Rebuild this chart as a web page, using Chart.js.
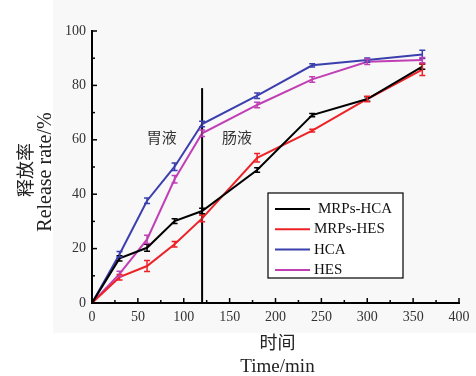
<!DOCTYPE html>
<html>
<head>
<meta charset="utf-8">
<script src="https://cdn.jsdelivr.net/npm/chart.js@4/dist/chart.umd.min.js"></script>
<style>
  html, body { margin: 0; padding: 0; background: #fff; }
  #wrap { width: 476px; height: 376px; position: relative; }
</style>
</head>
<body>
<div id="wrap"><canvas id="releaseChart" width="476" height="376"></canvas></div>
<script>
// sampling times (min)
const times = [0, 30, 60, 90, 120, 180, 240, 300, 360];

const mrpsHca = [0, 16.4, 20.3, 30.1, 33.8, 48.9, 69.1, 75.0, 86.9];
const mrpsHcaErr = [0, 1.0, 1.3, 0.9, 1.0, 0.8, 0.6, 0.8, 1.0];

const mrpsHes = [0, 9.5, 13.6, 21.6, 31.1, 53.4, 63.4, 75.0, 85.8];
const mrpsHesErr = [0, 1.0, 2.0, 1.0, 1.2, 1.6, 0.5, 1.0, 2.2];

const hca = [0, 17.9, 37.6, 50.1, 65.8, 76.2, 87.4, 89.3, 91.4];
const hcaErr = [0, 1.0, 1.0, 1.4, 1.0, 1.0, 0.6, 0.8, 1.5];

const hes = [0, 10.7, 23.4, 45.5, 62.4, 72.8, 82.2, 88.7, 89.3];
const hesErr = [0, 1.0, 1.5, 1.4, 1.2, 1.0, 1.0, 1.0, 1.0];

const xTicks = [0, 50, 100, 150, 200, 250, 300, 350, 400];
const yTicks = [0, 20, 40, 60, 80, 100];

// stomach / intestine boundary
const phaseSwitch = 120;
const phaseTop = 79;
const phaseLabels = [
  { text: '胃液', x: 76, y: 61 },
  { text: '肠液', x: 158, y: 61 }
];

const xTitle = ['时间', 'Time/min'];
const yTitle = ['释放率', 'Release rate/%'];

const serif = '"Liberation Serif", "Times New Roman", serif';
const cjk = '"Noto Sans CJK SC", sans-serif';

function series(label, data, err, color) {
  return {
    label: label,
    data: times.map((t, i) => ({ x: t, y: data[i] })),
    err: err,
    borderColor: color,
    backgroundColor: color,
    borderWidth: 2,
    pointRadius: 0,
    tension: 0
  };
}

const panelBg = {
  id: 'panelBg',
  beforeDraw(chart) {
    const ctx = chart.ctx;
    ctx.save();
    ctx.fillStyle = '#ffffff';
    ctx.fillRect(0, 0, chart.width, chart.height);
    ctx.fillStyle = '#f8f8f8';
    ctx.fillRect(53, 0, chart.width - 53, 333);
    ctx.restore();
  }
};

// inward major/minor tick marks on both axes
const innerTicks = {
  id: 'innerTicks',
  afterDraw(chart) {
    const { ctx, scales: { x, y } } = chart;
    ctx.save();
    ctx.strokeStyle = '#000';
    ctx.lineWidth = 1.5;
    for (let v = 0; v <= 400; v += 25) {
      const px = x.getPixelForValue(v);
      const len = v % 50 === 0 ? 5 : 3;
      ctx.beginPath();
      ctx.moveTo(px, y.bottom);
      ctx.lineTo(px, y.bottom - len);
      ctx.stroke();
    }
    for (let v = 0; v <= 100; v += 10) {
      const py = y.getPixelForValue(v);
      const len = v % 20 === 0 ? 5 : 3;
      ctx.beginPath();
      ctx.moveTo(x.left, py);
      ctx.lineTo(x.left + len, py);
      ctx.stroke();
    }
    ctx.restore();
  }
};

// two-line axis titles (Chinese over English)
const axisTitles = {
  id: 'axisTitles',
  afterDraw(chart) {
    const { ctx, chartArea: a } = chart;
    const cx = (a.left + a.right) / 2;
    ctx.save();
    ctx.fillStyle = '#222';
    ctx.textAlign = 'center';
    ctx.textBaseline = 'middle';
    ctx.font = '18px ' + cjk;
    ctx.fillText(xTitle[0], cx + 2, 342);
    ctx.font = '19px ' + serif;
    ctx.fillText(xTitle[1], cx + 2, 367);

    ctx.save();
    ctx.translate(25, 170);
    ctx.rotate(-Math.PI / 2);
    ctx.font = '18px ' + cjk;
    ctx.fillText(yTitle[0], 0, 0);
    ctx.restore();
    ctx.save();
    ctx.translate(46, 172);
    ctx.rotate(-Math.PI / 2);
    ctx.font = '20px ' + serif;
    ctx.fillText(yTitle[1], 0, 0);
    ctx.restore();
    ctx.restore();
  }
};

const phaseMarks = {
  id: 'phaseMarks',
  afterDatasetsDraw(chart) {
    const { ctx, scales: { x, y } } = chart;
    ctx.save();
    ctx.strokeStyle = '#000';
    ctx.lineWidth = 2;
    const px = x.getPixelForValue(phaseSwitch);
    ctx.beginPath();
    ctx.moveTo(px, y.getPixelForValue(phaseTop));
    ctx.lineTo(px, y.getPixelForValue(0));
    ctx.stroke();
    ctx.fillStyle = '#333';
    ctx.font = '15px ' + cjk;
    ctx.textAlign = 'center';
    ctx.textBaseline = 'middle';
    phaseLabels.forEach(l => {
      ctx.fillText(l.text, x.getPixelForValue(l.x), y.getPixelForValue(l.y));
    });
    ctx.restore();
  }
};

const errorBars = {
  id: 'errorBars',
  afterDatasetsDraw(chart) {
    const { ctx, scales: { x, y } } = chart;
    ctx.save();
    chart.data.datasets.forEach(ds => {
      ctx.strokeStyle = ds.borderColor;
      ctx.lineWidth = 1.5;
      ds.data.forEach((p, i) => {
        const e = ds.err[i];
        if (!e) return;
        const px = x.getPixelForValue(p.x);
        const top = y.getPixelForValue(p.y + e);
        const bot = y.getPixelForValue(p.y - e);
        ctx.beginPath();
        ctx.moveTo(px, top); ctx.lineTo(px, bot);
        ctx.moveTo(px - 3, top); ctx.lineTo(px + 3, top);
        ctx.moveTo(px - 3, bot); ctx.lineTo(px + 3, bot);
        ctx.stroke();
      });
    });
    ctx.restore();
  }
};

// boxed legend inside the plot
const boxLegend = {
  id: 'boxLegend',
  afterDraw(chart) {
    const ctx = chart.ctx;
    const left = 268, top = 193, w = 135, h = 85;
    ctx.save();
    ctx.fillStyle = '#fff';
    ctx.fillRect(left, top, w, h);
    ctx.strokeStyle = '#000';
    ctx.lineWidth = 1.2;
    ctx.strokeRect(left, top, w, h);
    ctx.font = '15px ' + serif;
    ctx.textBaseline = 'middle';
    ctx.textAlign = 'left';
    chart.data.datasets.forEach((ds, i) => {
      const ry = top + 16 + i * 20.3;
      ctx.strokeStyle = ds.borderColor;
      ctx.lineWidth = 2;
      ctx.beginPath();
      ctx.moveTo(left + 7, ry);
      ctx.lineTo(left + 42, ry);
      ctx.stroke();
      ctx.fillStyle = '#111';
      ctx.fillText(ds.label, left + (i === 0 ? 50 : 46), ry);
    });
    ctx.restore();
  }
};

new Chart(document.getElementById('releaseChart'), {
  type: 'line',
  data: {
    datasets: [
      series('MRPs-HCA', mrpsHca, mrpsHcaErr, '#000000'),
      series('MRPs-HES', mrpsHes, mrpsHesErr, '#ec2227'),
      series('HCA', hca, hcaErr, '#3b3fae'),
      series('HES', hes, hesErr, '#c13fb4')
    ]
  },
  options: {
    responsive: false,
    animation: false,
    layout: { padding: { top: 31, right: 17, left: 0, bottom: 0 } },
    plugins: { legend: { display: false }, tooltip: { enabled: false } },
    scales: {
      x: {
        type: 'linear',
        min: 0, max: 400,
        afterBuildTicks: s => { s.ticks = xTicks.map(v => ({ value: v })); },
        afterFit: s => { s.height = 73; },
        grid: { display: false, drawTicks: false, tickLength: 0 },
        border: { display: true, color: '#000', width: 2 },
        ticks: { color: '#333', padding: 6, maxRotation: 0, font: { family: serif, size: 14 } }
      },
      y: {
        type: 'linear',
        min: 0, max: 100,
        afterBuildTicks: s => { s.ticks = yTicks.map(v => ({ value: v })); },
        afterFit: s => { s.width = 92; },
        grid: { display: false, drawTicks: false, tickLength: 0 },
        border: { display: true, color: '#000', width: 2 },
        ticks: { color: '#333', padding: 6, font: { family: serif, size: 14 } }
      }
    }
  },
  plugins: [panelBg, phaseMarks, errorBars, innerTicks, boxLegend, axisTitles]
});
</script>
</body>
</html>
